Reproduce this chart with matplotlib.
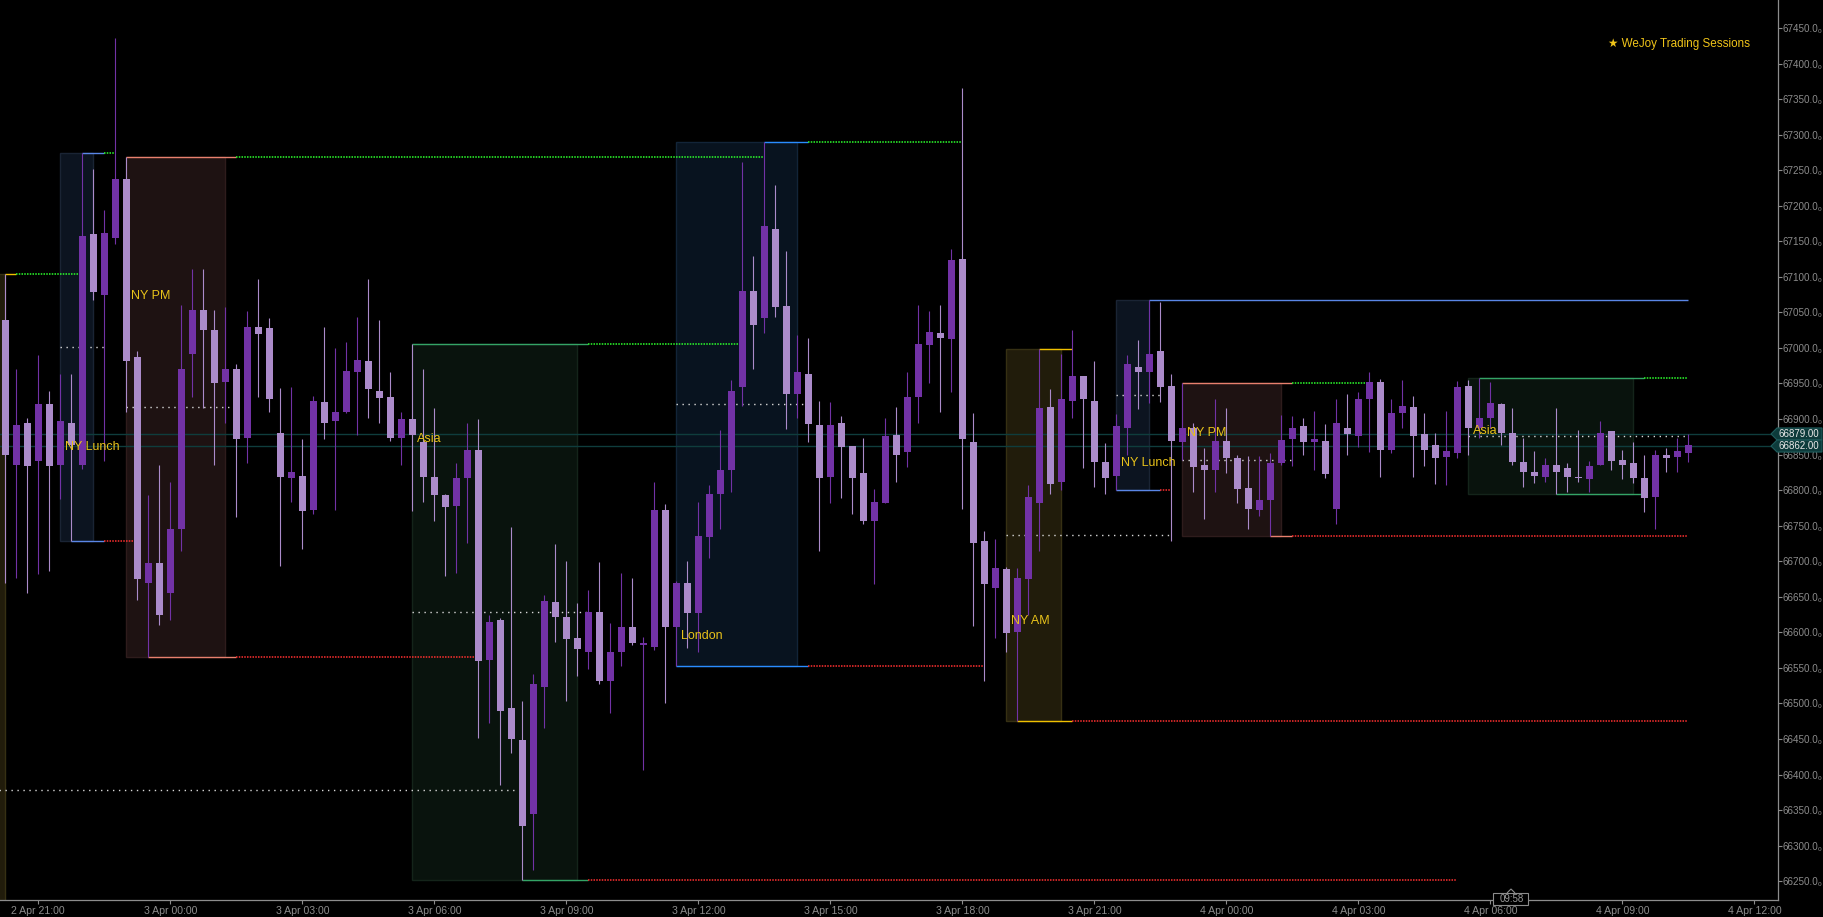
import matplotlib
matplotlib.use("Agg")
import matplotlib.pyplot as plt
from matplotlib.patches import Rectangle, Polygon

plt.rcParams['font.family'] = ['Liberation Sans', 'DejaVu Sans']

# ---------------- data (15-minute candles, first bar = 2 Apr 20:15) ----------------
opens = [67040, 66835, 66895, 66841, 66921, 66836, 66894, 66835, 67160, 67075,
         67154, 67237, 66987, 66670, 66697, 66655, 66745, 66991, 67054, 67025,
         66952, 66971, 66874, 67030, 67028, 66880, 66817, 66820, 66772, 66924,
         66897, 66910, 66966, 66981, 66939, 66931, 66874, 66900, 66867, 66818,
         66793, 66777, 66817, 66856, 66561, 66617, 66493, 66448, 66344, 66523,
         66642, 66622, 66592, 66573, 66628, 66531, 66573, 66607, 66582, 66579,
         66772, 66607, 66669, 66627, 66734, 66794, 66829, 66945, 67080, 67042,
         67167, 67059, 66935, 66964, 66891, 66818, 66894, 66862, 66824, 66756,
         66782, 66877, 66853, 66931, 67004, 67021, 67012, 67125, 66867, 66728,
         66663, 66689, 66601, 66675, 66782, 66917, 66811, 66925, 66961, 66925,
         66839, 66820, 66888, 66973, 66966, 66995, 66946, 66867, 66887, 66835,
         66829, 66869, 66845, 66803, 66772, 66786, 66838, 66872, 66890, 66867,
         66869, 66773, 66887, 66876, 66928, 66952, 66857, 66908, 66917, 66879,
         66864, 66846, 66852, 66946, 66888, 66901, 66921, 66881, 66839, 66826,
         66818, 66835, 66831, 66819, 66815, 66836, 66883, 66842, 66838, 66817,
         66790, 66850, 66846, 66852]
highs = [67104, 66971, 66901, 66990, 66939, 66963, 66964, 67274, 67251, 67194,
         67436, 67268, 66995, 66793, 66835, 66812, 67061, 67111, 67111, 67054,
         67057, 66977, 67052, 67097, 67042, 66943, 66945, 66872, 66933, 67030,
         67000, 67008, 67043, 67097, 67040, 66966, 66910, 67006, 66970, 66915,
         66795, 66838, 66895, 66900, 66624, 66620, 66748, 66503, 66542, 66653,
         66724, 66700, 66641, 66659, 66699, 66613, 66683, 66677, 66594, 66811,
         66780, 66672, 66701, 66783, 66807, 66884, 66955, 67262, 67129, 67289,
         67229, 67136, 67018, 67014, 66925, 66924, 66904, 66862, 66873, 66801,
         66902, 66917, 66966, 67061, 67052, 67060, 67139, 67365, 66908, 66742,
         66731, 66692, 66691, 66807, 66998, 66942, 66992, 67025, 66961, 66981,
         66866, 66907, 66990, 67011, 67067, 67065, 66964, 66950, 66894, 66859,
         66928, 66915, 66850, 66848, 66848, 66852, 66905, 66904, 66901, 66911,
         66893, 66928, 66935, 66938, 66966, 66957, 66928, 66955, 66932, 66908,
         66881, 66911, 66953, 66955, 66958, 66952, 66922, 66915, 66874, 66855,
         66845, 66915, 66838, 66884, 66841, 66897, 66883, 66857, 66867, 66849,
         66857, 66859, 66873, 66879]
lows = [66670, 66676, 66655, 66682, 66686, 66787, 66729, 66830, 67067, 66841,
        67146, 66910, 66645, 66565, 66610, 66617, 66714, 66931, 66915, 66835,
        66894, 66762, 66838, 66931, 66910, 66693, 66784, 66717, 66767, 66872,
        66772, 66908, 66877, 66902, 66895, 66869, 66836, 66770, 66783, 66756,
        66679, 66683, 66725, 66451, 66472, 66385, 66430, 66251, 66265, 66465,
        66586, 66503, 66539, 66548, 66528, 66486, 66552, 66582, 66406, 66575,
        66500, 66552, 66578, 66573, 66704, 66746, 66797, 66918, 66971, 67021,
        67044, 66886, 66902, 66867, 66714, 66782, 66789, 66766, 66752, 66668,
        66782, 66812, 66832, 66895, 66950, 66910, 66938, 66774, 66609, 66531,
        66592, 66572, 66475, 66625, 66715, 66794, 66800, 66902, 66831, 66805,
        66794, 66800, 66850, 66914, 66922, 66924, 66728, 66842, 66797, 66759,
        66798, 66824, 66782, 66745, 66763, 66736, 66836, 66834, 66849, 66829,
        66817, 66753, 66850, 66860, 66853, 66818, 66852, 66888, 66818, 66834,
        66808, 66807, 66845, 66849, 66874, 66888, 66864, 66836, 66804, 66810,
        66812, 66795, 66798, 66812, 66798, 66836, 66828, 66815, 66810, 66769,
        66746, 66826, 66826, 66839]
closes = [66849, 66891, 66834, 66921, 66834, 66897, 66863, 67157, 67078, 67161,
          67237, 66981, 66675, 66697, 66625, 66745, 66971, 67053, 67025, 66950,
          66970, 66872, 67030, 67019, 66928, 66818, 66825, 66770, 66926, 66895,
          66910, 66967, 66983, 66942, 66929, 66874, 66900, 66877, 66818, 66793,
          66776, 66817, 66856, 66559, 66615, 66490, 66450, 66327, 66528, 66644,
          66622, 66590, 66576, 66628, 66531, 66572, 66607, 66585, 66585, 66772,
          66607, 66669, 66627, 66736, 66794, 66829, 66940, 67080, 67032, 67171,
          67057, 66935, 66966, 66893, 66817, 66891, 66860, 66817, 66756, 66784,
          66876, 66850, 66931, 67005, 67022, 67014, 67123, 66872, 66725, 66668,
          66690, 66599, 66676, 66790, 66915, 66808, 66928, 66961, 66928, 66839,
          66817, 66890, 66978, 66966, 66992, 66945, 66869, 66887, 66832, 66829,
          66869, 66845, 66801, 66773, 66786, 66838, 66870, 66888, 66867, 66872,
          66822, 66894, 66879, 66928, 66952, 66857, 66908, 66918, 66876, 66857,
          66845, 66855, 66945, 66888, 66902, 66922, 66880, 66839, 66826, 66820,
          66835, 66826, 66818, 66817, 66834, 66881, 66841, 66836, 66817, 66789,
          66849, 66845, 66855, 66863]

# sessions (bar index ranges), first one is the previous NY AM session still on screen
sess_names = ["NY AM", "NY Lunch", "NY PM", "Asia", "London", "NY AM", "NY Lunch", "NY PM", "Asia"]
sess_start = [-6, 5, 11, 37, 61, 91, 101, 107, 133]
sess_end = [0, 8, 20, 52, 72, 96, 104, 116, 148]
sess_label_price = [None, 66861, 67073, 66872, 66595, 66616, 66838, 66880, 66883]
sess_high_solid = [False, False, False, False, False, False, True, False, False]
prev_high, prev_low = 67104, 65652   # previous NY AM session extremes

x_tick_idx = [3 + 12 * k for k in range(14)]
x_tick_labels = ["2 Apr 21:00", "3 Apr 00:00", "3 Apr 03:00", "3 Apr 06:00", "3 Apr 09:00",
                 "3 Apr 12:00", "3 Apr 15:00", "3 Apr 18:00", "3 Apr 21:00", "4 Apr 00:00",
                 "4 Apr 03:00", "4 Apr 06:00", "4 Apr 09:00", "4 Apr 12:00"]
y_ticks = list(range(66250, 67451, 50))
price_tags = [66879, 66862]
countdown = "09:58"
title = "★ WeJoy Trading Sessions"

# ---------------- styles ----------------
BULL = '#7232a6'
BEAR = '#ab8bca'
GOLD = '#e8c21a'
sess_style = {
    "NY Lunch": dict(fill='#0c1420', edge='#1a2434', line='#5a86e6'),
    "NY PM": dict(fill='#1e1212', edge='#2e1c1c', line='#e8806e'),
    "Asia": dict(fill='#09130d', edge='#14241a', line='#34a466'),
    "London": dict(fill='#08131f', edge='#122438', line='#2a8cff'),
    "NY AM": dict(fill='#211c0b', edge='#363013', line='#f0c000'),
}
HI_DOT = '#2cff2c'
LO_DOT = '#ff3030'

W, H = 1824, 917
fig = plt.figure(figsize=(W / 100, H / 100), dpi=100, facecolor='black')
ax = fig.add_axes([0, 17 / H, 1778 / W, 900 / H], facecolor='black')
ax.set_xlim(-0.482, 161.15)
ax.set_ylim(66223.5, 67489.4)

n = len(opens)
last = n - 1

# current price lines
for p in price_tags:
    ax.axhline(p, color='#0f3d3d', lw=1.0, zorder=1)

# session boxes, levels, mid lines
for k, name in enumerate(sess_names):
    st = sess_style[name]
    s, e = sess_start[k], sess_end[k]
    if s < 0:
        hi, lo = prev_high, prev_low
        hi_i = 0
        lo_i = None
    else:
        rng = range(s, e + 1)
        hi_i = max(rng, key=lambda j: highs[j])
        lo_i = min(rng, key=lambda j: lows[j])
        hi, lo = highs[hi_i], lows[lo_i]
    ax.add_patch(Rectangle((s, lo), e - s, hi - lo, facecolor=st['fill'],
                           edgecolor=st['edge'], lw=1.0, zorder=0.5))
    until = last
    for k2 in range(k + 1, len(sess_names)):
        if sess_names[k2] == name:
            until = sess_start[k2] - 1
            break

    def level(origin, lev, kind, all_solid=False):
        stop = until
        for j in range(origin + 1, until + 1):
            if (kind == 'h' and highs[j] > lev) or (kind == 'l' and lows[j] < lev):
                stop = j
                break
        solid_end = stop if all_solid else min(e + 1, stop)
        ax.plot([origin, solid_end], [lev, lev], color=st['line'], lw=1.0, zorder=2,
                solid_capstyle='butt')
        if stop > solid_end:
            ax.plot([solid_end, stop], [lev, lev], color=HI_DOT if kind == 'h' else LO_DOT,
                    lw=1.1, ls=(0, (1, 0.8)), zorder=2)

    level(hi_i, hi, 'h', sess_high_solid[k])
    if lo_i is not None:
        level(lo_i, lo, 'l')
    mid = (hi + lo) / 2
    mstop = last
    for j in range(max(e + 1, 0), last + 1):
        if lows[j] <= mid <= highs[j]:
            mstop = j
            break
    ax.plot([s, mstop], [mid, mid], color='#d8d8d8', lw=1.0, ls=(0, (1, 3.3)), zorder=2)
    if sess_label_price[k] is not None:
        ax.text(s + 0.45, sess_label_price[k], name, color=GOLD, fontsize=9,
                ha='left', va='center', zorder=6)

# candles
for i in range(n):
    o, h, l, c = opens[i], highs[i], lows[i], closes[i]
    col = BULL if c >= o else BEAR
    ax.vlines(i, l, h, color=col, lw=0.8, zorder=3)
    bot = min(o, c)
    ht = max(abs(c - o), 1.6)
    ax.bar(i, ht, bottom=bot, width=0.64, color=col, edgecolor='none', zorder=4)

# axes styling
for sp in ['top', 'left']:
    ax.spines[sp].set_visible(False)
for sp in ['right', 'bottom']:
    ax.spines[sp].set_color('#8c8c8c')
    ax.spines[sp].set_linewidth(0.9)
ax.yaxis.tick_right()
ax.set_yticks(y_ticks)
ax.set_yticklabels([f"{v:.1f}\u2080" for v in y_ticks])
ax.set_xticks(x_tick_idx)
ax.set_xticklabels(x_tick_labels)
ax.tick_params(axis='y', colors='#8c8c8c', labelsize=7.1, length=3, width=0.8, pad=0.4)
ax.tick_params(axis='x', colors='#8c8c8c', labelsize=7.6, length=3, width=0.8, pad=1.5)

# title
fig.text(1608 / W, 1 - 44 / H, title, color='#f0c419', fontsize=8.4, ha='left', va='center')

# price tags
def fy(yp):
    return 1 - yp / H
for p in price_tags:
    yp = (67489.4 - p) / 1.4066
    pts = [(1771 / W, fy(yp)), (1777 / W, fy(yp - 6)), (1822 / W, fy(yp - 6)),
           (1822 / W, fy(yp + 6)), (1777 / W, fy(yp + 6))]
    fig.add_artist(Polygon(pts, closed=True, facecolor='#0d3b3b', edgecolor='#1f5c5c',
                           lw=0.8, transform=fig.transFigure, zorder=10))
    fig.text(1779 / W, fy(yp), f"{p:.2f}", color='#e8e8e8', fontsize=7, ha='left',
             va='center', zorder=11)

# countdown box
fig.add_artist(Rectangle((1493 / W, fy(905)), 35 / W, 12 / H, facecolor='black',
                         edgecolor='#8c8c8c', lw=0.8, transform=fig.transFigure, zorder=10))
fig.add_artist(Polygon([(1507 / W, fy(893)), (1511 / W, fy(889)), (1515 / W, fy(893))],
                       closed=False, facecolor='black', edgecolor='#8c8c8c', lw=0.8,
                       transform=fig.transFigure, zorder=11))
fig.text(1512 / W, fy(899), countdown, color='#9a9a9a', fontsize=7, ha='center',
         va='center', zorder=12)

fig.savefig('out.png', dpi=100, facecolor='black')
